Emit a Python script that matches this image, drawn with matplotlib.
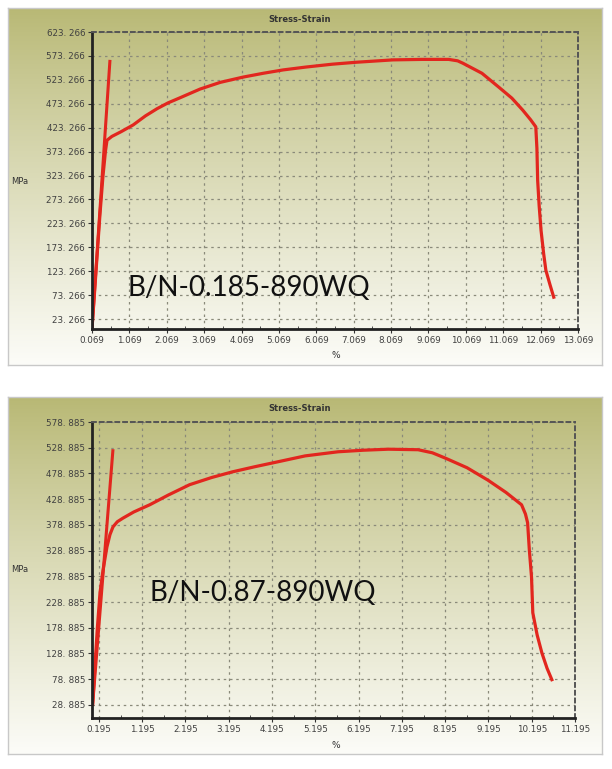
import numpy as np
import matplotlib
matplotlib.use('Agg')
import matplotlib.pyplot as plt

# 上图：B/N-0.185-890WQ
strain1 = [0.069, 0.12, 0.20, 0.28, 0.36, 0.43, 0.47, 0.60, 0.85, 1.17, 1.50, 1.81,
           2.10, 2.40, 2.96, 3.50, 4.11, 4.65, 5.18, 5.79, 6.50, 7.13, 8.12, 8.90,
           9.61, 9.85, 9.99, 10.50, 10.95, 11.30, 11.59, 11.80, 11.94, 11.97, 11.99,
           12.03, 12.08, 12.15, 12.21, 12.32, 12.42]
stress1 = [3, 60, 150, 240, 320, 375, 397, 405, 415, 429, 448, 463,
           475, 485, 504, 518, 529, 537, 544, 550, 556, 560, 565, 566,
           566, 563, 558, 537, 508, 485, 460, 440, 425, 380, 313,
           260, 209, 160, 125, 95, 69]
line1_x = [0.069, 0.55]
line1_y = [3, 565]

# 下图：B/N-0.87-890WQ
strain2 = [0.05, 0.10, 0.16, 0.22, 0.29, 0.38, 0.45, 0.52, 0.62, 0.75, 1.00, 1.37,
           1.80, 2.29, 2.80, 3.28, 3.80, 4.30, 4.96, 5.72, 6.30, 6.88, 7.57, 7.90,
           8.19, 8.70, 9.18, 9.60, 9.96, 10.05, 10.10, 10.14, 10.19, 10.22, 10.32,
           10.43, 10.55, 10.66]
stress2 = [30, 100, 180, 247, 291, 336, 360, 375, 385, 392, 404, 418,
           437, 457, 471, 482, 492, 501, 513, 521, 524, 526, 525, 519,
           509, 490, 466, 442, 418, 400, 383, 330, 278, 208, 165,
           130, 100, 78]
line2_x = [0.05, 0.52]
line2_y = [30, 526]

yticks1 = np.arange(23.266, 623.3, 50)
xticks1 = np.arange(0.069, 13.1, 1.0)
yticks2 = np.arange(28.885, 578.9, 50)
xticks2 = np.arange(0.195, 11.2, 1.0)

W, H = 612, 769
fig = plt.figure(figsize=(W / 100, H / 100), dpi=100)
fig.patch.set_facecolor('white')

def box(l, t, r, b):
    return [l / W, 1 - b / H, (r - l) / W, (b - t) / H]

grad = np.linspace(0, 1, 256).reshape(-1, 1)
top_c = np.array([184, 184, 116]) / 255
bot_c = np.array([252, 252, 248]) / 255

def panel(pbox, abox, sx, sy, lx, ly, xt, yt, xlim, ylim, label, lab_xy, mpa_y, pct_y):
    bg = fig.add_axes(box(*pbox))
    t = grad ** 0.9
    img = top_c[None, None, :] * (1 - t[..., None]) + bot_c[None, None, :] * t[..., None]
    bg.imshow(img, aspect='auto', extent=[0, 1, 0, 1])
    bg.set_xticks([])
    bg.set_yticks([])
    for s in bg.spines.values():
        s.set_color('#c8c8c8')
        s.set_linewidth(1)
    bg.set_zorder(0)

    ax = fig.add_axes(box(*abox))
    ax.set_zorder(1)
    ax.patch.set_alpha(0)
    ax.plot(lx, ly, color='#e2261e', lw=2.2, solid_capstyle='butt')
    ax.plot(sx, sy, color='#e2261e', lw=2.3, solid_joinstyle='round')
    ax.set_xlim(*xlim)
    ax.set_ylim(*ylim)
    ax.set_xticks(xt)
    ax.set_xticklabels(['%.3f' % v for v in xt])
    ax.set_yticks(yt)
    ax.set_yticklabels([('%.3f' % v).replace('.', '. ') for v in yt])
    ax.set_xticks((xt[:-1] + xt[1:]) / 2, minor=True)
    ax.tick_params(axis='both', labelsize=6.3, labelcolor='#404040', length=3,
                   color='#333333', direction='out', pad=2)
    ax.tick_params(axis='x', which='minor', length=2, direction='in', color='#333333')
    ax.grid(True, linestyle=(0, (2, 3)), color='#8a8a7a', lw=0.9)
    ax.spines['left'].set_linewidth(2)
    ax.spines['left'].set_color('#222222')
    ax.spines['bottom'].set_linewidth(2)
    ax.spines['bottom'].set_color('#222222')
    for s in ('top', 'right'):
        ax.spines[s].set_linestyle((0, (2, 2)))
        ax.spines[s].set_linewidth(1.4)
        ax.spines[s].set_color('#555555')
    ax.text(lab_xy[0] / W, 1 - lab_xy[1] / H, label, transform=fig.transFigure,
            fontsize=20, family='Lato', va='center', ha='left', color='#111111')
    fig.text(300 / W, 1 - (pbox[1] + 12) / H, 'Stress-Strain', fontsize=6,
             color='#333333', ha='center', va='center', weight='bold')
    fig.text(20 / W, 1 - mpa_y / H, 'MPa', fontsize=6, color='#333333',
             ha='center', va='center')
    fig.text(336 / W, 1 - pct_y / H, '%', fontsize=6.5, color='#333333',
             ha='center', va='center')

panel((8, 8, 602, 365), (92, 32, 578, 329), strain1, stress1, line1_x, line1_y,
      xticks1, yticks1, (0.069, 13.069), (2.5, 623.266), 'B/N-0.185-890WQ',
      (127, 288), 182, 356)
panel((8, 397, 602, 754), (92, 422, 575, 718), strain2, stress2, line2_x, line2_y,
      xticks2, yticks2, (0.035, 11.195), (3.5, 578.885), 'B/N-0.87-890WQ',
      (150, 593), 569, 746)

fig.savefig('out.png', dpi=100)
